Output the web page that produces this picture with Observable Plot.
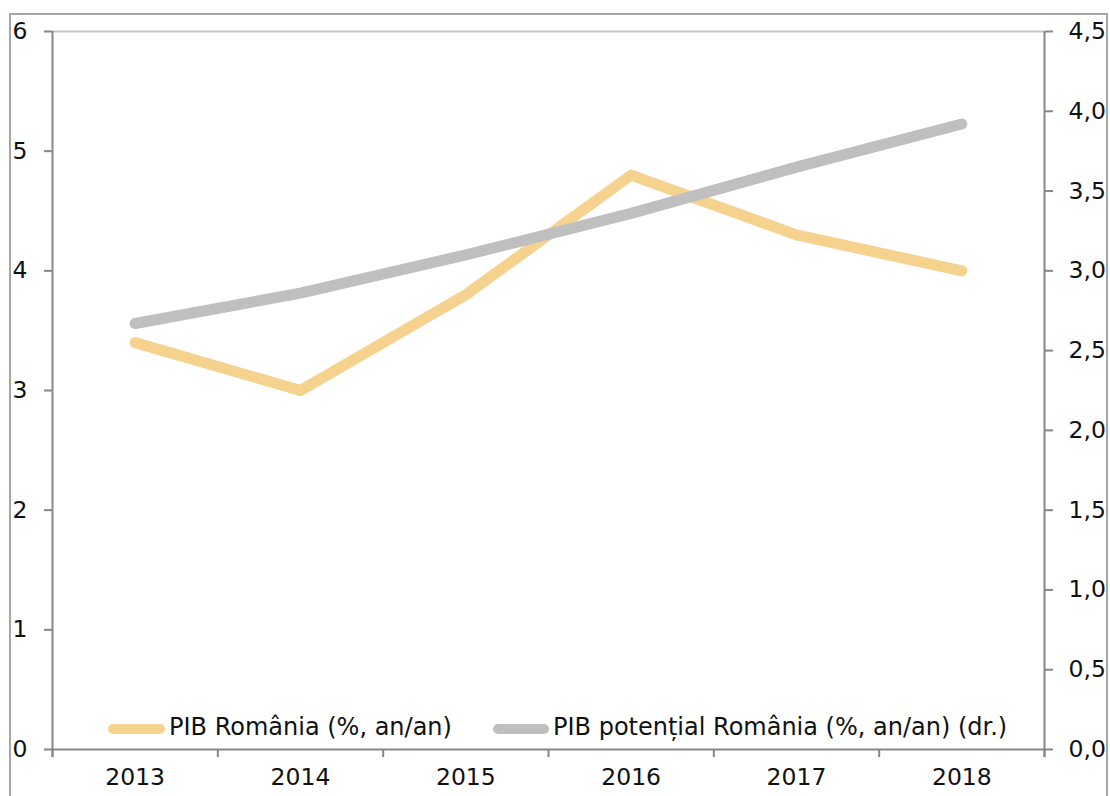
<!DOCTYPE html>
<html>
<head>
<meta charset="utf-8">
<script src="https://cdn.jsdelivr.net/npm/d3@7"></script>
<script src="https://cdn.jsdelivr.net/npm/@observablehq/plot@0.6"></script>
<style>
  html, body { margin: 0; padding: 0; background: #fff; overflow: hidden; }
  #wrap { position: relative; width: 1110px; height: 796px; }
  #border { position: absolute; left: 9px; top: 13px; width: 1099px; height: 800px; border: 2px solid #a6a6a6; box-sizing: border-box; }
  #chart { position: absolute; left: 0; top: 0; }
  .leg { position: absolute; font-family: "DejaVu Sans", sans-serif; font-size: 24px; color: #111; white-space: nowrap; line-height: 1; }
  .sw { position: absolute; height: 10px; border-radius: 5px; }
</style>
</head>
<body>
<div id="wrap">
  <div id="border"></div>
  <div id="chart"></div>
</div>
<script>
const years = [2013, 2014, 2015, 2016, 2017, 2018];
const pibRomania = [3.4, 3.0, 3.8, 4.8, 4.3, 4.0];
const pibPotential = [2.67, 2.86, 3.1, 3.36, 3.65, 3.92];
const leftTicks = [0, 1, 2, 3, 4, 5, 6];
const rightTicks = [0, 0.5, 1, 1.5, 2, 2.5, 3, 3.5, 4, 4.5];
const seriesNames = ["PIB România (%, an/an)", "PIB potențial România (%, an/an) (dr.)"];
const seriesColors = ["#F6D28F", "#BFBFBF"];

const ratio = 6 / 4.5;
const bandEdges = [2012.5, 2013.5, 2014.5, 2015.5, 2016.5, 2017.5, 2018.5];
const rowsA = years.map((y, i) => ({year: y, value: pibRomania[i]}));
const rowsB = years.map((y, i) => ({year: y, value: pibPotential[i] * ratio}));

const axisColor = "#878787";
const textColor = "#111";

const chart = Plot.plot({
  width: 1110,
  height: 796,
  marginLeft: 52,
  marginRight: 66,
  marginTop: 31,
  marginBottom: 47,
  x: {domain: [2012.5, 2018.5]},
  y: {domain: [0, 6]},
  style: {fontFamily: "DejaVu Sans, sans-serif", fontSize: "23.5px", color: textColor, background: "transparent", overflow: "visible"},
  marks: [
    Plot.ruleY([6], {stroke: "#c4c4c4", strokeWidth: 2}),
    Plot.lineY(rowsA, {x: "year", y: "value", stroke: seriesColors[0], strokeWidth: 11, strokeLinecap: "round", strokeLinejoin: "round"}),
    Plot.lineY(rowsB, {x: "year", y: "value", stroke: seriesColors[1], strokeWidth: 11, strokeLinecap: "round", strokeLinejoin: "round"}),
    Plot.ruleY([0], {stroke: axisColor, strokeWidth: 2}),
    Plot.ruleX([2012.5], {stroke: axisColor, strokeWidth: 2, insetBottom: -8}),
    Plot.ruleX([2018.5], {stroke: axisColor, strokeWidth: 2, insetBottom: -8}),
    Plot.axisY(leftTicks, {anchor: "left", tickSize: 8, tickPadding: 17, stroke: axisColor, strokeWidth: 2, fill: textColor, label: null, tickFormat: d => String(d)}),
    Plot.axisY(rightTicks.map(v => v * ratio), {anchor: "right", tickSize: 8, tickPadding: 16, stroke: axisColor, strokeWidth: 2, fill: textColor, label: null, tickFormat: d => (d / ratio).toFixed(1).replace(".", ",")}),
    Plot.axisX(bandEdges, {anchor: "bottom", tickSize: 8, stroke: axisColor, strokeWidth: 2, label: null, tickFormat: () => ""}),
    Plot.axisX(years, {anchor: "bottom", tickSize: 0, tickPadding: 19, fill: textColor, label: null, tickFormat: d => String(d)})
  ]
});
document.getElementById("chart").appendChild(chart);

// Legend (inside plot area, bottom)
const wrap = document.getElementById("wrap");
const legendItems = [
  {x0: 108, x1: 165, tx: 169},
  {x0: 493, x1: 549, tx: 553}
];
legendItems.forEach((it, i) => {
  const sw = document.createElement("div");
  sw.className = "sw";
  sw.style.left = it.x0 + "px";
  sw.style.top = "724px";
  sw.style.width = (it.x1 - it.x0) + "px";
  sw.style.background = seriesColors[i];
  wrap.appendChild(sw);
  const t = document.createElement("div");
  t.className = "leg";
  t.style.left = it.tx + "px";
  t.style.top = "715px";
  t.textContent = seriesNames[i];
  wrap.appendChild(t);
});
</script>
</body>
</html>
